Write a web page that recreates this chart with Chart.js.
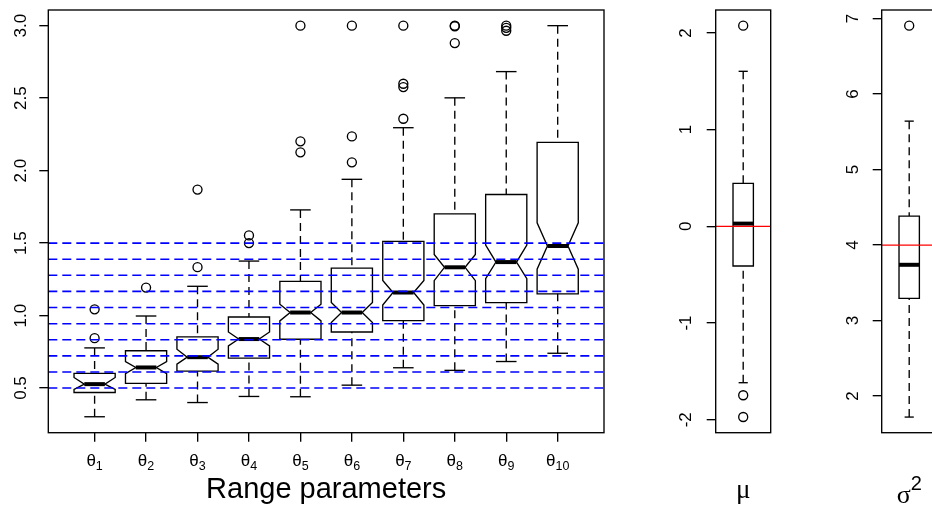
<!DOCTYPE html>
<html>
<head>
<meta charset="utf-8">
<title>Boxplots</title>
<script src="https://cdn.jsdelivr.net/npm/chart.js@4/dist/chart.umd.min.js"></script>
<style>
	html, body { margin:0; padding:0; background:#fff; overflow:hidden; }
	#wrap { position:relative; width:932px; height:509px; overflow:hidden; background:#fff; }
	#wrap canvas { position:absolute; top:0; }
	#cMain { left:0; }
	#cMu { left:660px; }
	#cSig { left:820px; }
</style>
</head>
<body>
<div id="wrap">
	<canvas id="cMain" width="640" height="509"></canvas>
	<canvas id="cMu" width="130" height="509"></canvas>
	<canvas id="cSig" width="130" height="509"></canvas>
</div>
<script>
// range parameters, one box per theta
const thetaSub = ['1','2','3','4','5','6','7','8','9','10'];
const thetaTrue = [0.5, 0.611, 0.722, 0.833, 0.944, 1.056, 1.167, 1.278, 1.389, 1.5];
const whiskLo = [0.302, 0.419, 0.400, 0.442, 0.440, 0.520, 0.640, 0.622, 0.683, 0.740];
const hingeLo = [0.469, 0.532, 0.617, 0.706, 0.837, 0.887, 0.965, 1.069, 1.089, 1.150];
const notchLo = [0.490, 0.600, 0.665, 0.791, 0.963, 0.952, 1.073, 1.241, 1.254, 1.320];
const medians = [0.527, 0.642, 0.713, 0.838, 1.021, 1.021, 1.159, 1.333, 1.369, 1.480];
const notchHi = [0.573, 0.683, 0.768, 0.887, 1.078, 1.090, 1.242, 1.422, 1.486, 1.640];
const hingeHi = [0.601, 0.757, 0.853, 0.990, 1.236, 1.327, 1.512, 1.702, 1.835, 2.195];
const whiskHi = [0.777, 0.997, 1.202, 1.376, 1.729, 1.940, 2.296, 2.502, 2.683, 3.000];
const outliers = [
	[0.844, 1.043],
	[1.193],
	[1.334, 1.869],
	[1.500, 1.553],
	[2.126, 2.202, 3.0],
	[2.057, 2.236, 3.0],
	[2.358, 2.576, 2.599, 3.0],
	[2.880, 2.996, 3.0],
	[2.965, 2.985, 3.0],
	[]
];
const mainTicks = [0.5, 1.0, 1.5, 2.0, 2.5, 3.0];

// mu: low whisker, lower hinge, median, upper hinge, high whisker
const muBox = [-1.617, -0.410, 0.028, 0.444, 1.603];
const muOut = [2.075, -1.747, -1.972];
const muTrue = 0;
const muTicks = [-2, -1, 0, 1, 2];

// sigma^2
const sigBox = [1.722, 3.294, 3.739, 4.384, 5.642];
const sigOut = [6.907];
const sigTrue = 4;
const sigTicks = [2, 3, 4, 5, 6, 7];

const FONT = '"Liberation Sans", Arial, Helvetica, sans-serif';
const SERIF = '"Liberation Serif", "Times New Roman", serif';
const LW = 1.35;

function seg(ctx, x1, y1, x2, y2){
	ctx.beginPath(); ctx.moveTo(x1, y1); ctx.lineTo(x2, y2); ctx.stroke();
}

// st = [whiskLo, hingeLo, notchLo, median, notchHi, hingeHi, whiskHi]
function drawBox(chart, pos, st, half, staple, notched){
	const ctx = chart.ctx, xs = chart.scales.x, ys = chart.scales.y;
	const px = v => xs.getPixelForValue(v);
	const [wl, hl, nl, md, nh, hh, wh] = st.map(v => ys.getPixelForValue(v));
	const xc = px(pos), xl = px(pos - half), xr = px(pos + half);
	const il = px(pos - half / 2), ir = px(pos + half / 2);
	ctx.save();
	ctx.strokeStyle = '#000';
	ctx.lineWidth = LW;
	ctx.setLineDash([8, 5]);
	seg(ctx, xc, wl, xc, hl);
	seg(ctx, xc, wh, xc, hh);
	ctx.setLineDash([]);
	seg(ctx, px(pos - staple), wl, px(pos + staple), wl);
	seg(ctx, px(pos - staple), wh, px(pos + staple), wh);
	ctx.beginPath();
	if (notched){
		ctx.moveTo(xl, hl); ctx.lineTo(xr, hl); ctx.lineTo(xr, nl); ctx.lineTo(ir, md);
		ctx.lineTo(xr, nh); ctx.lineTo(xr, hh); ctx.lineTo(xl, hh); ctx.lineTo(xl, nh);
		ctx.lineTo(il, md); ctx.lineTo(xl, nl);
	} else {
		ctx.rect(xl, hh, xr - xl, hl - hh);
	}
	ctx.closePath();
	ctx.stroke();
	ctx.lineWidth = 4;
	if (notched) seg(ctx, il, md, ir, md); else seg(ctx, xl, md, xr, md);
	ctx.restore();
}

function frame(chart){
	const a = chart.chartArea, ctx = chart.ctx;
	ctx.save();
	ctx.strokeStyle = '#000';
	ctx.lineWidth = LW;
	ctx.strokeRect(a.left, a.top, a.right - a.left, a.bottom - a.top);
	ctx.restore();
}

function hline(chart, v, color, width, dash){
	const a = chart.chartArea, ctx = chart.ctx;
	const y = chart.scales.y.getPixelForValue(v);
	ctx.save();
	ctx.strokeStyle = color; ctx.lineWidth = width; ctx.setLineDash(dash);
	seg(ctx, a.left, y, a.right, y);
	ctx.restore();
}

function yAxis(min, max, ticks, fmt, pad, width){
	return {
		type: 'linear', min: min, max: max,
		afterBuildTicks: s => { s.ticks = ticks.map(v => ({value: v})); },
		afterFit: s => { s.width = width; s.paddingTop = 0; s.paddingBottom = 0; },
		ticks: {callback: fmt, color: '#000', font: {family: FONT, size: 17},
			minRotation: 90, maxRotation: 90, crossAlign: 'center', padding: pad},
		grid: {drawOnChartArea: false, drawTicks: true, tickLength: 9, color: '#000', lineWidth: LW},
		border: {display: false}
	};
}

function outlierSet(points){
	return {data: points, pointStyle: 'circle', radius: 4.5, borderWidth: 1.35,
		borderColor: '#000', backgroundColor: 'rgba(0,0,0,0)'};
}

const common = {
	responsive: false, animation: false, events: [],
	plugins: {legend: {display: false}, tooltip: {enabled: false}}
};

// main panel
const mainPts = outliers.flatMap((arr, i) => arr.map(v => ({x: i + 1, y: v})));
new Chart(document.getElementById('cMain'), {
	type: 'scatter',
	data: {datasets: [outlierSet(mainPts)]},
	options: Object.assign({}, common, {
		layout: {padding: {left: 0, top: 10, right: 36, bottom: 0}},
		scales: {
			x: {
				type: 'linear', min: 0.1, max: 10.9,
				afterBuildTicks: s => { s.ticks = thetaSub.map((t, i) => ({value: i + 1})); },
				afterFit: s => { s.height = 76.3; s.paddingLeft = 0; s.paddingRight = 0; },
				ticks: {display: false},
				grid: {drawOnChartArea: false, drawTicks: true, tickLength: 9, color: '#000', lineWidth: LW},
				border: {display: false},
				title: {display: true, text: 'Range parameters', color: '#000',
					font: {family: FONT, size: 29}, padding: {top: 0, bottom: 2}}
			},
			y: yAxis(0.192, 3.108, mainTicks, v => v.toFixed(1), 6, 48.3)
		}
	}),
	plugins: [{
		id: 'mainDraw',
		afterDraw(chart){
			const ctx = chart.ctx, a = chart.chartArea, xs = chart.scales.x;
			for (let i = 0; i < thetaSub.length; i++){
				drawBox(chart, i + 1, [whiskLo[i], hingeLo[i], notchLo[i], medians[i], notchHi[i], hingeHi[i], whiskHi[i]], 0.4, 0.2, true);
			}
			thetaTrue.forEach(v => hline(chart, v, '#0000ff', 1.6, [9, 5]));
			frame(chart);
			ctx.save();
			ctx.fillStyle = '#000';
			ctx.textAlign = 'left';
			ctx.textBaseline = 'alphabetic';
			thetaSub.forEach((s, i) => {
				const x = xs.getPixelForValue(i + 1);
				ctx.font = '17px ' + FONT;
				const w1 = ctx.measureText('θ').width;
				ctx.font = '12.5px ' + FONT;
				const w2 = ctx.measureText(s).width;
				const x0 = x - (w1 + w2) / 2;
				ctx.font = '17px ' + FONT;
				ctx.fillText('θ', x0, a.bottom + 33.5);
				ctx.font = '12.5px ' + FONT;
				ctx.fillText(s, x0 + w1, a.bottom + 37.5);
			});
			ctx.restore();
		}
	}]
});

// small panels (mu, sigma^2)
function smallPanel(id, box, outs, truth, ticks, range, pad, axisW, rightPad, label){
	new Chart(document.getElementById(id), {
		type: 'scatter',
		data: {datasets: [outlierSet(outs.map(v => ({x: 1, y: v})))]},
		options: Object.assign({}, common, {
			layout: {padding: {left: 0, top: 10, right: rightPad, bottom: 76.3}},
			scales: {
				x: {type: 'linear', min: 0.46, max: 1.54, display: false},
				y: yAxis(range[0], range[1], ticks, v => String(v), pad, axisW)
			}
		}),
		plugins: [{
			id: id + 'Draw',
			afterDraw(chart){
				drawBox(chart, 1, [box[0], box[1], box[2], box[2], box[2], box[3], box[4]], 0.2, 0.09, false);
				hline(chart, truth, '#ff0000', 1.4, []);
				frame(chart);
				label(chart);
			}
		}]
	});
}

smallPanel('cMu', muBox, muOut, muTrue, muTicks, [-2.134, 2.237], 12.4, 55.7, 19.3, chart => {
	const ctx = chart.ctx, a = chart.chartArea;
	ctx.save();
	ctx.fillStyle = '#000';
	ctx.font = '27px ' + SERIF;
	ctx.textAlign = 'center';
	ctx.textBaseline = 'alphabetic';
	ctx.fillText('μ', (a.left + a.right) / 2, a.bottom + 64.8);
	ctx.restore();
});

smallPanel('cSig', sigBox, sigOut, sigTrue, sigTicks, [1.515, 7.114], 14.7, 61.7, 13.3, chart => {
	const ctx = chart.ctx, a = chart.chartArea;
	ctx.save();
	ctx.fillStyle = '#000';
	ctx.textAlign = 'left';
	ctx.textBaseline = 'alphabetic';
	ctx.font = '26px ' + SERIF;
	const w1 = ctx.measureText('σ').width;
	ctx.font = '20px ' + FONT;
	const w2 = ctx.measureText('2').width;
	const x0 = (a.left + a.right) / 2 - (w1 + w2) / 2;
	ctx.font = '26px ' + SERIF;
	ctx.fillText('σ', x0, a.bottom + 70.5);
	ctx.font = '20px ' + FONT;
	ctx.fillText('2', x0 + w1, a.bottom + 57.3);
	ctx.restore();
});
</script>
</body>
</html>
